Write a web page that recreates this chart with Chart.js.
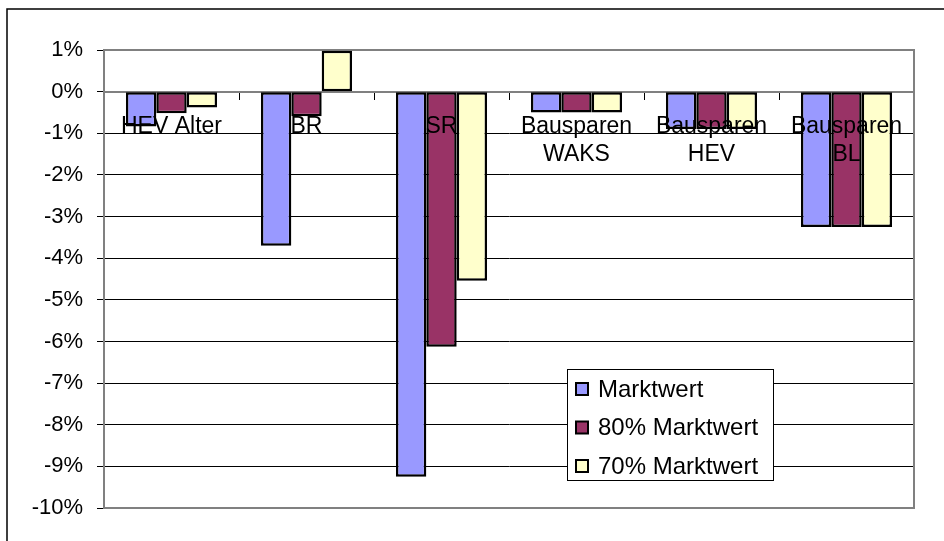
<!DOCTYPE html>
<html>
<head>
<meta charset="utf-8">
<script src="https://cdn.jsdelivr.net/npm/chart.js@4/dist/chart.umd.min.js"></script>
<style>
  body { margin: 0; background: #fff; }
  canvas { display: block; }
</style>
</head>
<body>
<canvas id="chart" width="944" height="541"></canvas>
<script>
const categories = ['HEV Alter', 'BR', 'SR', ['Bausparen', 'WAKS'], ['Bausparen', 'HEV'], ['Bausparen', 'BL']];
const marktwert = [-0.84, -3.70, -9.25, -0.50, -0.90, -3.25];
const marktwert80 = [-0.52, -0.59, -6.13, -0.50, -0.90, -3.25];
const marktwert70 = [-0.38, 0.98, -4.54, -0.50, -0.90, -3.25];
const seriesNames = ['Marktwert', '80% Marktwert', '70% Marktwert'];
const seriesColors = ['#9999FF', '#993366', '#FFFFCC'];

const FONT = "'Liberation Sans', Arial, sans-serif";

// frame, plot border and legend box drawn by hand
const framePlugin = {
    id: 'frame',
    beforeDraw(chart) {
        const ctx = chart.ctx;
        ctx.save();
        ctx.strokeStyle = '#000';
        ctx.lineWidth = 1.5;
        ctx.strokeRect(7, 9, 1000, 1000);
        ctx.restore();
    },
    beforeDatasetsDraw(chart) {
        const { ctx, chartArea } = chart;
        ctx.save();
        ctx.strokeStyle = '#808080';
        ctx.lineWidth = 2;
        ctx.strokeRect(chartArea.left, chartArea.top, chartArea.right - chartArea.left, chartArea.bottom - chartArea.top);
        ctx.restore();
    },
    afterDraw(chart) {
        const ctx = chart.ctx;
        ctx.save();
        ctx.fillStyle = '#fff';
        ctx.fillRect(567, 369, 206, 111);
        ctx.strokeStyle = '#000';
        ctx.lineWidth = 1;
        ctx.strokeRect(567.5, 369.5, 206, 111);
        ctx.font = '24px ' + FONT;
        ctx.textBaseline = 'middle';
        chart.data.datasets.forEach((ds, i) => {
            const y = 389 + i * 38.5;
            ctx.fillStyle = ds.backgroundColor;
            ctx.fillRect(576, y - 6, 12, 12);
            ctx.strokeStyle = '#000';
            ctx.lineWidth = 2;
            ctx.strokeRect(576, y - 6, 12, 12);
            ctx.fillStyle = '#000';
            ctx.fillText(ds.label, 598, y + 1);
        });
        ctx.restore();
    }
};

new Chart(document.getElementById('chart'), {
    type: 'bar',
    data: {
        labels: categories,
        datasets: [
            { label: seriesNames[0], data: marktwert, backgroundColor: seriesColors[0] },
            { label: seriesNames[1], data: marktwert80, backgroundColor: seriesColors[1] },
            { label: seriesNames[2], data: marktwert70, backgroundColor: seriesColors[2] }
        ]
    },
    options: {
        responsive: false,
        animation: false,
        datasets: {
            bar: {
                borderColor: '#000',
                borderWidth: 2.5,
                borderSkipped: false,
                categoryPercentage: 0.675,
                barPercentage: 1
            }
        },
        layout: { padding: { top: 50, right: 30, bottom: 33, left: 0 } },
        plugins: {
            legend: { display: false },
            tooltip: { enabled: false }
        },
        scales: {
            x: {
                position: { y: 0 },
                offset: true,
                grid: {
                    offset: true,
                    drawOnChartArea: false,
                    drawTicks: true,
                    tickLength: 7,
                    tickColor: '#000'
                },
                border: { display: true, color: '#808080', width: 2 },
                ticks: {
                    z: 1,
                    color: '#000',
                    font: { family: FONT, size: 23, lineHeight: 1.22 },
                    padding: 14,
                    maxRotation: 0,
                    autoSkip: false
                }
            },
            y: {
                min: -10,
                max: 1,
                afterFit(scale) { scale.width = 104; },
                grid: {
                    color: '#000',
                    lineWidth: 1,
                    tickLength: 7,
                    tickColor: '#000'
                },
                border: { display: true, color: '#808080', width: 2 },
                ticks: {
                    stepSize: 1,
                    color: '#000',
                    padding: 14,
                    font: { family: FONT, size: 22 },
                    callback: v => v + '%'
                }
            }
        }
    },
    plugins: [framePlugin]
});
</script>
</body>
</html>
